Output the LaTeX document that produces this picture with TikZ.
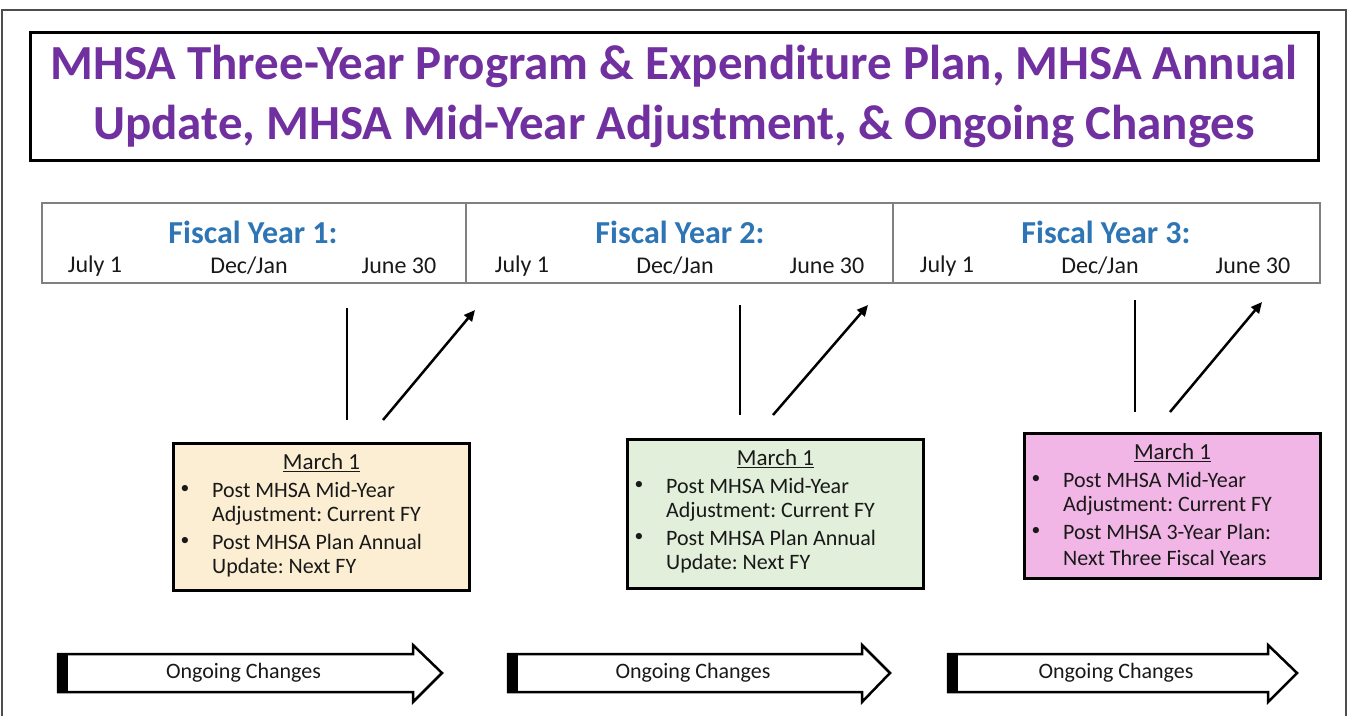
\documentclass[tikz,border=0pt]{standalone}
\usepackage{fontspec}
\setmainfont{Carlito}
\usetikzlibrary{arrows.meta,calc}
\definecolor{titlepurple}{HTML}{7030A0}
\definecolor{fyblue}{HTML}{2E75B6}
\definecolor{peach}{HTML}{FBEED3}
\definecolor{sage}{HTML}{E2EFDA}
\definecolor{pinkbox}{HTML}{F2B6E6}
\definecolor{bandgray}{HTML}{808080}
\definecolor{framegray}{HTML}{4D4D4D}
\tikzset{
  txt/.style={inner sep=0pt, font=\fontsize{22}{25}\selectfont\frenchspacing, text=black!90},
  datetxt/.style={inner sep=0pt, font=\fontsize{24}{28}\selectfont, text=black!90},
  marchtxt/.style={inner sep=0pt, font=\fontsize{23}{26}\selectfont, text=black!90},
  fylabel/.style={inner sep=0pt, font=\fontsize{32}{36}\selectfont\bfseries, text=fyblue},
  seg/.style={draw=bandgray, line width=1.5pt, minimum height=80pt, inner sep=0pt},
  marchbox/.style={draw=black, line width=3pt, minimum width=296pt, inner sep=0pt},
  tick/.style={line width=2.5pt, black},
  pointer/.style={line width=2.5pt, black, -{Triangle[length=11pt,width=10pt]}},
  ongoing/.style={draw=black, line width=2.5pt, line join=miter, fill=white},
}
\newcommand\MarchBox[7]{%
  % #1 name, #2 left x, #3 top y, #4 height, #5 fill, #6 third line, #7 fourth line
  \node[marchbox, fill=#5, minimum height=#4pt, anchor=north west] (#1) at (#2,#3) {};
  \node[marchtxt, anchor=center] (#1t) at ($(#1.north)+(0,21)$) {\underline{March 1}};
  \node[txt, anchor=center, scale=0.8] (#1b1) at ($(#1.north west)+(13,47)$) {\textbullet};
  \node[txt, anchor=west] (#1l1) at ($(#1.north west)+(40,48)$) {Post MHSA Mid-Year};
  \node[txt, anchor=west] (#1l2) at ($(#1.north west)+(40,74)$) {Adjustment: Current FY};
  \node[txt, anchor=center, scale=0.8] (#1b2) at ($(#1.north west)+(13,99)$) {\textbullet};
  \node[txt, anchor=west] (#1l3) at ($(#1.north west)+(40,100)$) {#6};
  \node[txt, anchor=west] (#1l4) at ($(#1.north west)+(40,126)$) {#7};
}
\newcommand\Ongoing[4]{%
  % #1 name, #2 left x, #3 head base x, #4 tip x
  \path[ongoing] (#2,654) -- (#3,654) -- (#3,645) -- (#4,673) -- (#3,702) -- (#3,692) -- (#2,692) -- cycle;
  \fill[black] (#2-1.25,652.75) rectangle (#2+10,693.25);
  \node[txt, anchor=center] (#1) at ({(#2+#3)/2+8},673) {Ongoing Changes};
}
\begin{document}
\begin{tikzpicture}[x=1pt,y=-1pt]
\useasboundingbox (0,0) rectangle (1351,715);
\fill[white] (0,0) rectangle (1351,715);
% outer frame
\draw[framegray, line width=1.5pt] (2,720) -- (2,10) -- (1346,10) -- (1346,720);
% title
\node[draw=black, line width=3pt, minimum width=1288pt, minimum height=128pt, inner sep=0pt,
      align=center, text=titlepurple, font=\fontsize{49}{60}\selectfont\bfseries] (title) at (674,96)
  {MHSA Three-Year Program \& Expenditure Plan, MHSA Annual\\Update, MHSA Mid-Year Adjustment, \& Ongoing Changes};
% timeline band
\node[seg, minimum width=424pt] (s1) at (254,243) {};
\node[seg, minimum width=427pt] (s2) at (679.5,243) {};
\node[seg, minimum width=427pt] (s3) at (1106.5,243) {};
\node[fylabel] (fy1) at (253,232) {Fiscal Year 1:};
\node[fylabel] (fy2) at (680,232) {Fiscal Year 2:};
\node[fylabel] (fy3) at (1106,232) {Fiscal Year 3:};
\node[datetxt] (j1) at (95,266) {July 1};
\node[datetxt] (d1) at (249,266) {Dec/Jan};
\node[datetxt] (e1) at (399,266) {June 30};
\node[datetxt] (j2) at (522,266) {July 1};
\node[datetxt] (d2) at (675,266) {Dec/Jan};
\node[datetxt] (e2) at (827,266) {June 30};
\node[datetxt] (j3) at (947,266) {July 1};
\node[datetxt] (d3) at (1100,266) {Dec/Jan};
\node[datetxt] (e3) at (1253,266) {June 30};
% March boxes
\MarchBox{m1}{172}{442}{147}{peach}{Post MHSA Plan Annual}{Update: Next FY}
\MarchBox{m2}{626}{438}{149}{sage}{Post MHSA Plan Annual}{Update: Next FY}
\MarchBox{m3}{1023}{432}{145}{pinkbox}{Post MHSA 3-Year Plan:}{Next Three Fiscal Years}
% ticks and pointers
\coordinate (v1a) at (347,308); \coordinate (v1b) at (347,420);
\coordinate (p1a) at (383,420); \coordinate (p1b) at (475,310);
\coordinate (v2a) at (740,305); \coordinate (v2b) at (740,415);
\coordinate (p2a) at (773,415); \coordinate (p2b) at (868,305);
\coordinate (v3a) at (1135,300); \coordinate (v3b) at (1135,412);
\coordinate (p3a) at (1170,412); \coordinate (p3b) at (1262,302);
\draw[tick] (v1a) -- (v1b);
\draw[pointer] (p1a) -- (p1b);
\draw[tick] (v2a) -- (v2b);
\draw[pointer] (p2a) -- (p2b);
\draw[tick] (v3a) -- (v3b);
\draw[pointer] (p3a) -- (p3b);
% ongoing changes arrows
\Ongoing{o1}{58}{413}{442}
\Ongoing{o2}{508}{862}{890}
\Ongoing{o3}{948}{1268}{1297}
\end{tikzpicture}
\end{document}
